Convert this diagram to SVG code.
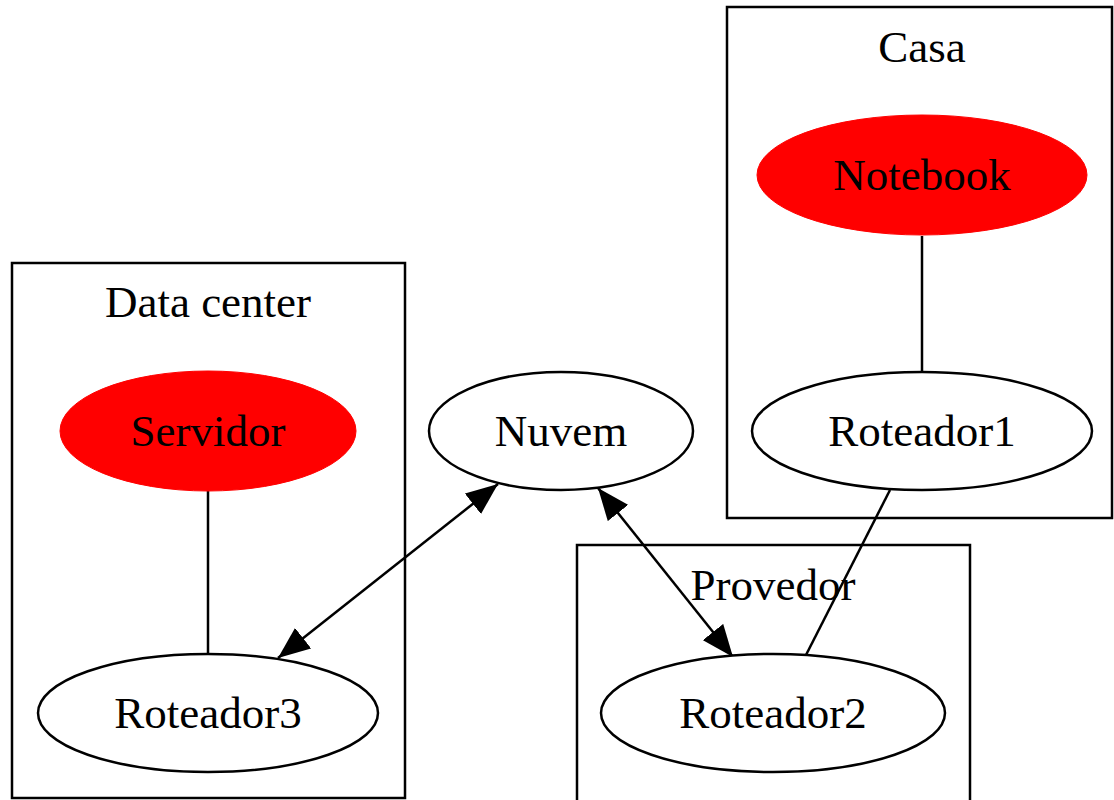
<svg xmlns="http://www.w3.org/2000/svg" width="1114" height="800" viewBox="0 0 1114 800">
<style>
.cl{fill:none;stroke:#000;stroke-width:2.5}
.n{stroke:#000;stroke-width:2.5}
.w{fill:#fff}
.r{fill:#f00;stroke:#f00}
text{font-family:"Liberation Serif","Times New Roman",serif;font-size:45px;fill:#000;text-anchor:middle}
.e{stroke:#000;stroke-width:2.5;fill:none}
</style>
<defs>
<marker id="a" viewBox="0 0 32 26" refX="32" refY="13" markerWidth="32" markerHeight="26" markerUnits="userSpaceOnUse" orient="auto-start-reverse">
<path d="M0,0 L32,13 L0,26 z" fill="#000"/>
</marker>
</defs>
<rect width="1114" height="800" fill="#fff"/>
<g id="cluster_datacenter"><rect class="cl" x="12" y="263" width="393" height="535"/><text x="208" y="317">Data center</text></g>
<g id="cluster_casa"><rect class="cl" x="727" y="7" width="385" height="511"/><text x="922" y="62">Casa</text></g>
<g id="cluster_provedor"><rect class="cl" x="577" y="545" width="393" height="260"/><text x="773" y="600">Provedor</text></g>
<g id="connectors">
<line class="e" x1="208" y1="491" x2="208" y2="653"/>
<line class="e" x1="922" y1="236" x2="922" y2="371"/>
<line class="e" x1="890" y1="490" x2="806" y2="655"/>
<line class="e" x1="498" y1="484" x2="278" y2="658" marker-start="url(#a)" marker-end="url(#a)"/>
<line class="e" x1="598" y1="488" x2="733" y2="657" marker-start="url(#a)" marker-end="url(#a)"/>
</g>
<g id="Servidor"><ellipse class="r" cx="208" cy="431" rx="148" ry="60"/><text x="208" y="446">Servidor</text></g>
<g id="Nuvem"><ellipse class="n w" cx="561" cy="431" rx="132" ry="59"/><text x="561" y="446">Nuvem</text></g>
<g id="Notebook"><ellipse class="r" cx="922" cy="175" rx="165" ry="60"/><text x="922" y="190">Notebook</text></g>
<g id="Roteador1"><ellipse class="n w" cx="922" cy="431" rx="170" ry="59"/><text x="922" y="446">Roteador1</text></g>
<g id="Roteador3"><ellipse class="n w" cx="208" cy="713" rx="170" ry="59"/><text x="208" y="728">Roteador3</text></g>
<g id="Roteador2"><ellipse class="n w" cx="773" cy="713" rx="172" ry="59"/><text x="773" y="728">Roteador2</text></g>
</svg>
